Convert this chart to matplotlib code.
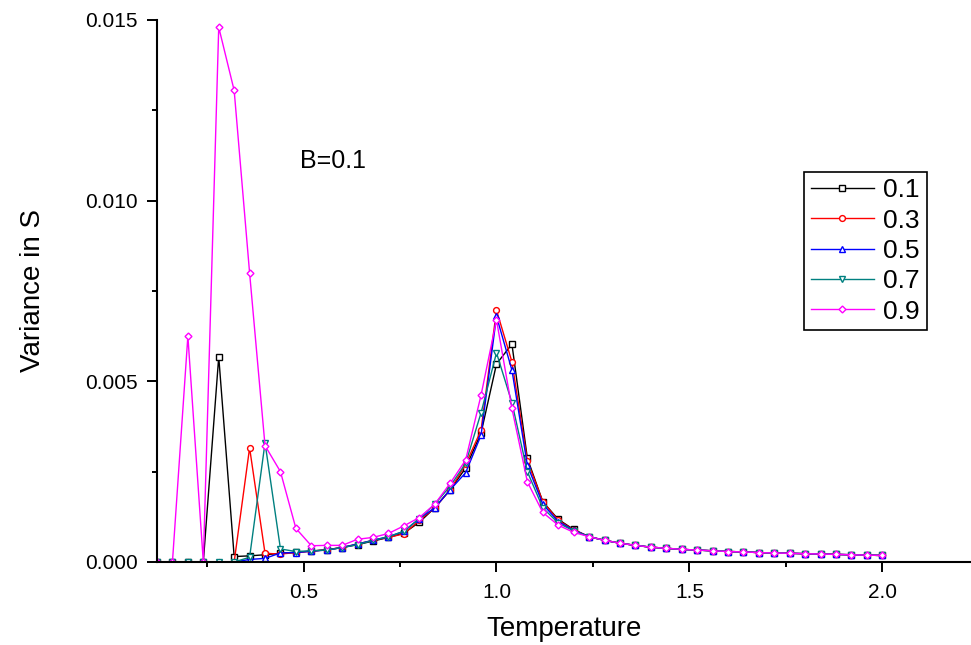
import matplotlib.pyplot as plt
from matplotlib.ticker import MultipleLocator

plt.rcParams['font.family'] = ['Liberation Sans', 'DejaVu Sans']

temperature = [0.12, 0.16, 0.20, 0.24, 0.28, 0.32, 0.36, 0.40, 0.44, 0.48,
               0.52, 0.56, 0.60, 0.64, 0.68, 0.72, 0.76, 0.80, 0.84, 0.88,
               0.92, 0.96, 1.00, 1.04, 1.08, 1.12, 1.16, 1.20, 1.24, 1.28,
               1.32, 1.36, 1.40, 1.44, 1.48, 1.52, 1.56, 1.60, 1.64, 1.68,
               1.72, 1.76, 1.80, 1.84, 1.88, 1.92, 1.96, 2.00]

# shared high-temperature tail (1.24 .. 2.00)
tail = [0.00070, 0.00060, 0.00052, 0.00046, 0.00041, 0.00038, 0.00035, 0.00033,
        0.00031, 0.00029, 0.00028, 0.00026, 0.00025, 0.00024, 0.00023, 0.00022,
        0.00021, 0.00020, 0.00019, 0.00018]

var_01 = [0, 0, 0, 0, 0.00568, 0.00015, 0.00017, 0.00020, 0.00024, 0.00027,
          0.00030, 0.00034, 0.00040, 0.00048, 0.00058, 0.00068, 0.00080, 0.00110,
          0.00150, 0.00200, 0.00260, 0.00357, 0.00548, 0.00603, 0.00287, 0.00167,
          0.00118, 0.00090] + tail
var_03 = [0, 0, 0, 0, 0, 0, 0.00316, 0.00024, 0.00022, 0.00026,
          0.00030, 0.00034, 0.00040, 0.00050, 0.00060, 0.00068, 0.00078, 0.00115,
          0.00150, 0.00200, 0.00270, 0.00365, 0.00697, 0.00554, 0.00280, 0.00167,
          0.00115, 0.00089] + tail
var_05 = [0, 0, 0, 0, 0, 0, 0.00007, 0.00010, 0.00025, 0.00026,
          0.00030, 0.00033, 0.00040, 0.00050, 0.00060, 0.00070, 0.00085, 0.00120,
          0.00150, 0.00200, 0.00247, 0.00351, 0.00680, 0.00531, 0.00268, 0.00160,
          0.00112, 0.00088] + tail
var_07 = [0, 0, 0, 0, 0, 0, 0.00013, 0.00330, 0.00036, 0.00029,
          0.00031, 0.00033, 0.00040, 0.00048, 0.00060, 0.00070, 0.00085, 0.00120,
          0.00160, 0.00210, 0.00273, 0.00413, 0.00579, 0.00441, 0.00250, 0.00150,
          0.00108, 0.00086] + tail
var_09 = [0, 0, 0.00625, 0, 0.01480, 0.01305, 0.00800, 0.00322, 0.00250, 0.00093,
          0.00045, 0.00046, 0.00046, 0.00063, 0.00068, 0.00079, 0.00100, 0.00123,
          0.00160, 0.00218, 0.00282, 0.00462, 0.00670, 0.00425, 0.00222, 0.00137,
          0.00102, 0.00082] + tail

series = [('0.1', var_01, 'black', 's'),
          ('0.3', var_03, '#ff0000', 'o'),
          ('0.5', var_05, '#0000ff', '^'),
          ('0.7', var_07, '#008080', 'v'),
          ('0.9', var_09, '#ff00ff', 'D')]

fig = plt.figure(figsize=(9.71, 6.45), dpi=100)
ax = fig.add_axes([0.1617, 0.1287, 0.8383, 0.8403])

for label, values, color, marker in series:
    ms = 3.5 if marker == 'D' else 4.2
    ax.plot(temperature, values, color=color, lw=1, marker=marker, ms=ms,
            mfc='white', mec=color, mew=1, label=label)

ax.set_xlim(0.12, 2.23)
ax.set_ylim(0, 0.015)
ax.xaxis.set_major_locator(MultipleLocator(0.5))
ax.xaxis.set_minor_locator(MultipleLocator(0.25))
ax.yaxis.set_major_locator(MultipleLocator(0.005))
ax.yaxis.set_minor_locator(MultipleLocator(0.0025))
ax.yaxis.set_major_formatter(plt.FormatStrFormatter('%.3f'))
ax.xaxis.set_major_formatter(plt.FormatStrFormatter('%.1f'))

ax.spines['top'].set_visible(False)
ax.spines['right'].set_visible(False)
for s in ['left', 'bottom']:
    ax.spines[s].set_linewidth(1.5)
ax.tick_params(which='major', direction='out', length=7, width=1.4, labelsize=15, pad=7)
ax.tick_params(axis='x', which='major', pad=8)
ax.tick_params(which='minor', direction='out', length=3.5, width=1.4)

ax.set_xlabel('Temperature', fontsize=20, labelpad=10)
ax.set_ylabel('Variance in S', fontsize=20, labelpad=28)

ax.text(0.49, 0.0111, 'B=0.1', fontsize=18, va='center')

leg = ax.legend(loc='upper left', bbox_to_anchor=(0.795, 0.72), fontsize=19,
                frameon=True, fancybox=False, edgecolor='black', framealpha=1,
                handlelength=2.4, handletextpad=0.35, labelspacing=0.24,
                borderpad=0.25, borderaxespad=0)
leg.get_frame().set_linewidth(1.2)

fig.savefig('out.png', dpi=100)
